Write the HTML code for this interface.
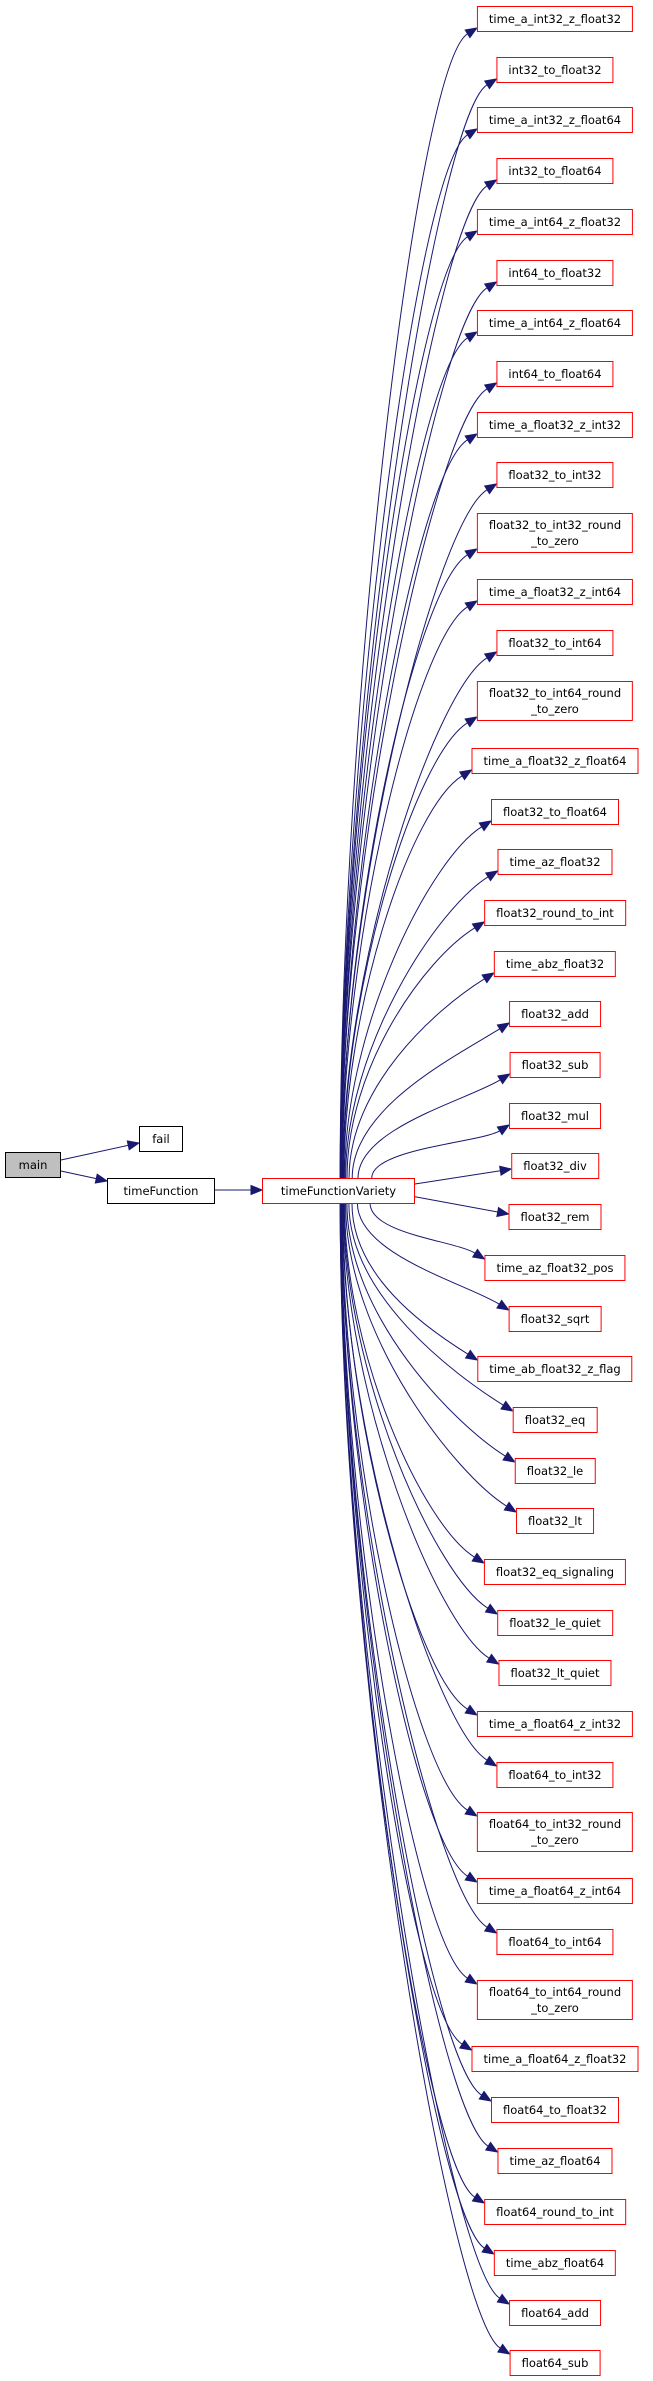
<!DOCTYPE html>
<html><head><meta charset="utf-8">
<style>
html,body{margin:0;padding:0;background:#fff;}
body{width:653px;height:2381px;position:relative;overflow:hidden;font-family:"DejaVu Sans","Liberation Sans",sans-serif;}
.n{position:absolute;left:555px;transform:translateX(-50%);height:26px;box-sizing:border-box;border:1px solid #ff0000;background:#fff;font-size:11.5px;line-height:24px;padding:0 11px;white-space:nowrap;color:#000;text-align:center;}
.d{height:40px;line-height:16px;padding-top:3px;}
.b{position:absolute;box-sizing:border-box;border:1px solid #000;background:#fff;font-size:11.5px;line-height:24px;height:26px;text-align:center;white-space:nowrap;}
svg{position:absolute;left:0;top:0;}
</style></head><body>
<svg id="s" width="653" height="2381"></svg>
<div class="b" style="left:5px;top:1152px;width:56px;background:#bfbfbf;">main</div>
<div class="b" style="left:139px;top:1126px;width:44px;">fail</div>
<div class="b" style="left:107px;top:1178px;width:108px;">timeFunction</div>
<div class="b" style="left:262px;top:1178px;width:153px;border-color:#ff0000;">timeFunctionVariety</div>
<div id="nodes">
<div class="n" style="top:6px">time_a_int32_z_float32</div>
<div class="n" style="top:57px">int32_to_float32</div>
<div class="n" style="top:107px">time_a_int32_z_float64</div>
<div class="n" style="top:158px">int32_to_float64</div>
<div class="n" style="top:209px">time_a_int64_z_float32</div>
<div class="n" style="top:260px">int64_to_float32</div>
<div class="n" style="top:310px">time_a_int64_z_float64</div>
<div class="n" style="top:361px">int64_to_float64</div>
<div class="n" style="top:412px">time_a_float32_z_int32</div>
<div class="n" style="top:462px">float32_to_int32</div>
<div class="n d" style="top:513px">float32_to_int32_round<br>_to_zero</div>
<div class="n" style="top:579px">time_a_float32_z_int64</div>
<div class="n" style="top:630px">float32_to_int64</div>
<div class="n d" style="top:681px">float32_to_int64_round<br>_to_zero</div>
<div class="n" style="top:748px">time_a_float32_z_float64</div>
<div class="n" style="top:799px">float32_to_float64</div>
<div class="n" style="top:849px">time_az_float32</div>
<div class="n" style="top:900px">float32_round_to_int</div>
<div class="n" style="top:951px">time_abz_float32</div>
<div class="n" style="top:1001px">float32_add</div>
<div class="n" style="top:1052px">float32_sub</div>
<div class="n" style="top:1103px">float32_mul</div>
<div class="n" style="top:1153px">float32_div</div>
<div class="n" style="top:1204px">float32_rem</div>
<div class="n" style="top:1255px">time_az_float32_pos</div>
<div class="n" style="top:1306px">float32_sqrt</div>
<div class="n" style="top:1356px">time_ab_float32_z_flag</div>
<div class="n" style="top:1407px">float32_eq</div>
<div class="n" style="top:1458px">float32_le</div>
<div class="n" style="top:1508px">float32_lt</div>
<div class="n" style="top:1559px">float32_eq_signaling</div>
<div class="n" style="top:1610px">float32_le_quiet</div>
<div class="n" style="top:1660px">float32_lt_quiet</div>
<div class="n" style="top:1711px">time_a_float64_z_int32</div>
<div class="n" style="top:1762px">float64_to_int32</div>
<div class="n d" style="top:1812px">float64_to_int32_round<br>_to_zero</div>
<div class="n" style="top:1878px">time_a_float64_z_int64</div>
<div class="n" style="top:1929px">float64_to_int64</div>
<div class="n d" style="top:1980px">float64_to_int64_round<br>_to_zero</div>
<div class="n" style="top:2046px">time_a_float64_z_float32</div>
<div class="n" style="top:2097px">float64_to_float32</div>
<div class="n" style="top:2148px">time_az_float64</div>
<div class="n" style="top:2199px">float64_round_to_int</div>
<div class="n" style="top:2250px">time_abz_float64</div>
<div class="n" style="top:2300px">float64_add</div>
<div class="n" style="top:2350px">float64_sub</div>
</div>
<script>
(function(){
var svg=document.getElementById('s'),C='#191970',out='';
function arrow(tx,ty,ux,uy){var L=11,W=4.5,bx=tx-ux*L,by=ty-uy*L,px=-uy,py=ux;
out+='<polygon fill="'+C+'" stroke="'+C+'" points="'+tx+','+ty+' '+(bx+px*W)+','+(by+py*W)+' '+(bx-px*W)+','+(by-py*W)+'"/>';return [bx,by];}
function line(x1,y1,x2,y2){var dx=x2-x1,dy=y2-y1,l=Math.hypot(dx,dy),b=arrow(x2,y2,dx/l,dy/l);
out+='<path fill="none" stroke="'+C+'" d="M'+x1+','+y1+' L'+b[0]+','+b[1]+'"/>';}
line(61,1160,139,1143);line(61,1171,107,1181);line(215,1190,262,1190);
var ns=document.querySelectorAll('#nodes .n');
for(var i=0;i<ns.length;i++){var r=ns[i].getBoundingClientRect();var ty=r.top+r.height/2,lx=r.left,dy=ty-1190;
if(Math.abs(dy)<40){line(415,1190+dy*0.25,lx,ty+(dy<0?3:-3));continue;}
var s=dy<0?-1:1,sx=Math.min(385,338+2500/Math.abs(dy)),sy=s<0?1178:1203;
var tipy=ty-s*(r.height/2-4),ux=0.85,uy=0.53*s;var b=arrow(lx,tipy,ux,uy);
var k=Math.min(60,Math.abs(dy)*0.3);
var p1y=sy+s*Math.abs(dy)*0.4,p2x=b[0]-ux*k,p2y=b[1]-uy*k;
out+='<path fill="none" stroke="'+C+'" d="M'+sx+','+sy+' C'+sx+','+p1y+' '+p2x+','+p2y+' '+b[0]+','+b[1]+'"/>';}
svg.innerHTML=out;
})();
</script>
</body></html>
